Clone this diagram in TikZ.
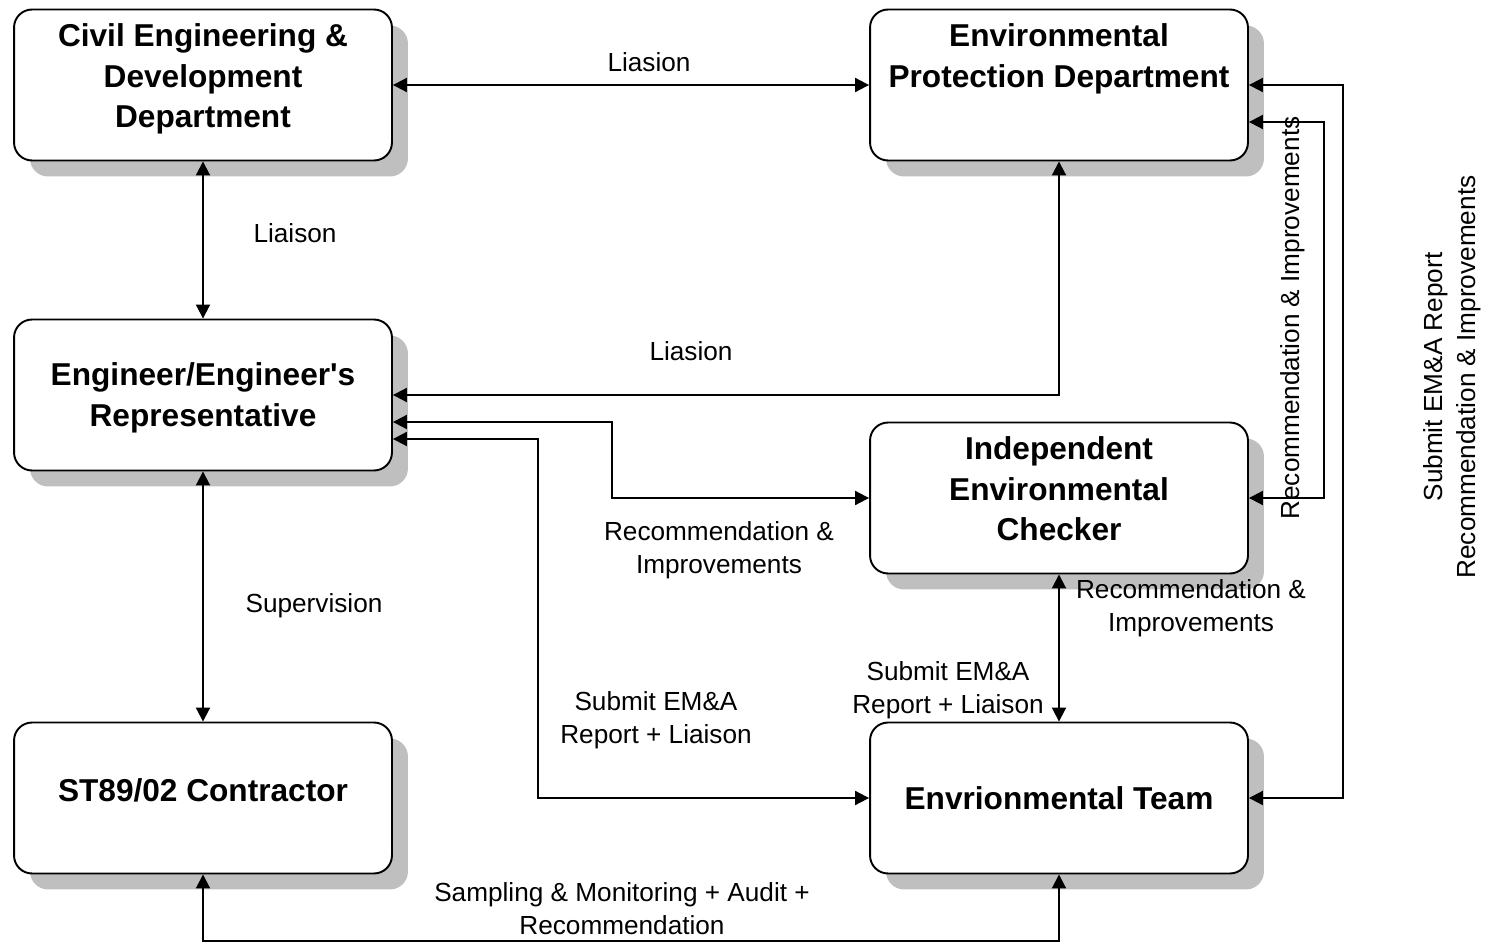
\documentclass[tikz,border=0pt]{standalone}
\usepackage{fontspec}
\setmainfont{Liberation Sans}
\usetikzlibrary{arrows.meta,shadows}
\tikzset{
   dept/.style={draw, line width=1.1pt, fill=white, rounded corners=0.36cm,
      minimum width=7.56cm, minimum height=3.02cm,
      drop shadow={shadow xshift=0.32cm, shadow yshift=-0.32cm, fill=gray!50, opacity=1}},
   depttext/.style={align=center, font=\fontsize{18}{23}\selectfont\bfseries},
   link/.style={line width=1.1pt, {Triangle[length=0.28cm,width=0.28cm]}-{Triangle[length=0.28cm,width=0.28cm]}},
   lbl/.style={align=center, font=\fontsize{14.9}{18.8}\selectfont}
}
\begin{document}
\begin{tikzpicture}[x=0.02cm, y=-0.02cm]
      \useasboundingbox (0,0) rectangle (1488,943);
      \node[dept] (civil) at (203,85) {};
      \node[dept] (epd) at (1059,85) {};
      \node[dept] (eng) at (203,395) {};
      \node[dept] (iec) at (1059,498) {};
      \node[dept] (st) at (203,798) {};
      \node[dept] (team) at (1059,798) {};
      \node[depttext] (civiltext) at (203,79) {Civil Engineering \&\\Development\\Department};
      \node[depttext] (epdtext) at (1059,59) {Environmental\\Protection Department};
      \node[depttext] (engtext) at (203,398) {Engineer/Engineer\textquotesingle s\\Representative};
      \node[depttext] (iectext) at (1059,489) {Independent\\Environmental\\Checker};
      \node[depttext] (sttext) at (203,790) {ST89/02 Contractor};
      \node[depttext] (teamtext) at (1059,798) {Envrionmental Team};
      \draw[link] (civil) -- (epd);
      \draw[link] (civil) -- (eng);
      \draw[link] (eng) -- (st);
      \draw[link] (iec) -- (team);
      \draw[link] (eng.east) -| (epd.south);
      \draw[link] (eng.east |- 0,422) -| (612,498) -- (iec.west);
      \draw[link] (eng.east |- 0,439) -| (538,798) -- (team.west);
      \draw[link] (epd.east) -| (1343,798) -- (team.east);
      \draw[link] (epd.east |- 0,122) -| (1324,498) -- (iec.east);
      \draw[link] (st.south) -- (203,941) -| (team.south);
      \node[lbl] (l1) at (649,62) {Liasion};
      \node[lbl] (l2) at (295,233) {Liaison};
      \node[lbl] (l3) at (691,351) {Liasion};
      \node[lbl] (l4) at (719,550) {Recommendation \&\\Improvements};
      \node[lbl] (l5) at (314,606) {Supervision};
      \node[lbl] (l6) at (656,720) {Submit EM\&A\\Report + Liaison};
      \node[lbl] (l7) at (948,690) {Submit EM\&A\\Report + Liaison};
      \node[lbl] (l8) at (1191,608) {Recommendation \&\\Improvements};
      \node[lbl] (l9) at (622,909) {Sampling \& Monitoring + Audit +\\Recommendation};
      \node[lbl, rotate=90] (l10) at (1293,318) {Recommendation \& Improvements};
      \node[lbl, rotate=90] (l11) at (1452,377) {Submit EM\&A Report\\Recommendation \& Improvements};
   \end{tikzpicture}
\end{document}
